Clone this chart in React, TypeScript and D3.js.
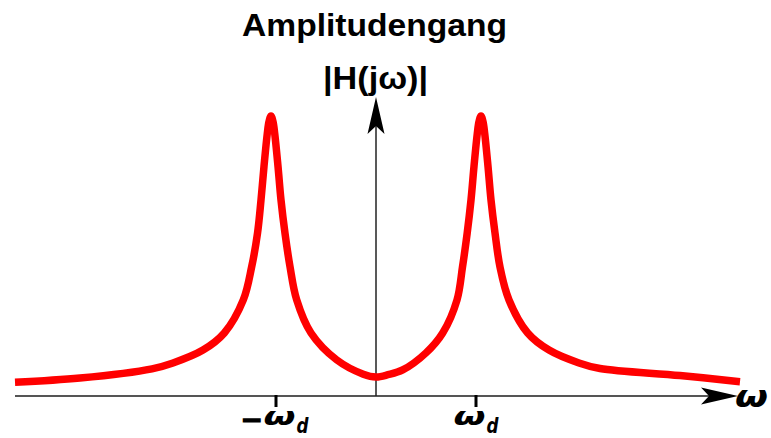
import React from "react";
import * as d3 from "d3";

const TITLE = "Amplitudengang";
const Y_LABEL = "|H(jω)|";
const X_LABEL = "ω";

// frequency (in units of ω_d) and magnitude (relative to peak)
const omega = [
  -3.61, -2.96, -2.24, -2.03, -1.73, -1.517, -1.327, -1.243, -1.185, -1.15, -1.12, -1.087, -1.07, -1.05,
  -1.03, -1.013, -0.98, -0.95, -0.91, -0.86, -0.793, -0.65, -0.393, -0.127, 0,
  0.12, 0.267, 0.5, 0.667, 0.81, 0.865, 0.912, 0.95, 0.98, 1.013, 1.03, 1.05,
  1.07, 1.087, 1.12, 1.15, 1.19, 1.24, 1.33, 1.517, 1.73, 2.03, 2.24, 3.04, 3.64,
];
const magnitude = [
  0.049, 0.064, 0.097, 0.118, 0.164, 0.225, 0.343, 0.462, 0.581, 0.7, 0.82, 0.938, 0.98, 1.0,
  0.98, 0.938, 0.82, 0.7, 0.581, 0.462, 0.343, 0.225, 0.129, 0.078, 0.068,
  0.076, 0.093, 0.154, 0.225, 0.343, 0.461, 0.582, 0.7, 0.82, 0.938, 0.98, 1.0,
  0.98, 0.938, 0.82, 0.7, 0.582, 0.461, 0.343, 0.225, 0.164, 0.118, 0.098, 0.073, 0.051,
];

const tickValues = [-1, 1];
const tickPrefix = ["−", ""];
const tickMain = ["ω", "ω"];
const tickSub = ["d", "d"];

const X_AXIS_MIN = -3.61;
const X_AXIS_MAX = 3.62;
const Y_AXIS_MAX = 1.068;

export default function App() {
  const W = 771;
  const H = 438;
  const xs = d3.scaleLinear().domain([-1, 1]).range([276, 476]);
  const ys = d3.scaleLinear().domain([0, 1]).range([396, 116]);

  const pts: [number, number][] = omega.map((w, i) => [w, magnitude[i]]);
  const line = d3
    .line<[number, number]>()
    .x((d) => xs(d[0]))
    .y((d) => ys(d[1]))
    .curve(d3.curveCatmullRom.alpha(0.5));

  const x0 = xs(0);
  const y0 = ys(0);
  const xTip = xs(X_AXIS_MAX);
  const yTip = ys(Y_AXIS_MAX);
  const aLen = 37;
  const aHalf = 8.5;
  const aNotch = 8;

  const xArrow = `M${xTip},${y0} L${xTip - aLen},${y0 - aHalf} L${xTip - aLen + aNotch},${y0} L${xTip - aLen},${y0 + aHalf} Z`;
  const yArrow = `M${x0},${yTip} L${x0 - aHalf},${yTip + aLen} L${x0},${yTip + aLen - aNotch} L${x0 + aHalf},${yTip + aLen} Z`;

  const minusW = 17;
  const gap = 3;
  const omW = 32;
  const dW = 12;

  return (
    <svg width={W} height={H} style={{ position: "absolute", left: 0, top: 0, background: "#fff" }}>
      <text
        x={374.5}
        y={36}
        textAnchor="middle"
        fontFamily="Liberation Sans, Arial, sans-serif"
        fontWeight="bold"
        fontSize={32}
        textLength={265}
        lengthAdjust="spacingAndGlyphs"
      >
        {TITLE}
      </text>
      <text
        x={375.5}
        y={89}
        textAnchor="middle"
        fontFamily="Liberation Sans, Arial, sans-serif"
        fontWeight="bold"
        fontSize={31}
        textLength={105}
        lengthAdjust="spacingAndGlyphs"
      >
        {Y_LABEL}
      </text>

      {/* x axis */}
      <line x1={xs(X_AXIS_MIN)} x2={xTip - aLen + aNotch} y1={y0} y2={y0} stroke="#555" strokeWidth={2} />
      <path d={xArrow} fill="#000" />
      {/* y axis */}
      <line x1={x0} x2={x0} y1={y0} y2={yTip + aLen - aNotch} stroke="#222" strokeWidth={1.5} />
      <path d={yArrow} fill="#000" />

      {/* ticks */}
      {tickValues.map((v, i) => {
        const tx = xs(v);
        const hasPrefix = tickPrefix[i] !== "";
        const total = (hasPrefix ? minusW + gap : 0) + omW + 1 + dW;
        const start = tx - total / 2;
        const omStart = start + (hasPrefix ? minusW + gap : 0);
        return (
          <g key={i}>
            <line x1={tx} x2={tx} y1={395} y2={407} stroke="#000" strokeWidth={3} />
            {hasPrefix && (
              <text
                x={start - 3}
                y={428}
                fontFamily="DejaVu Sans, sans-serif"
                fontWeight="bold"
                fontSize={24}
                textLength={minusW + 5}
                lengthAdjust="spacingAndGlyphs"
                stroke="#000"
                strokeWidth={1.4}
              >
                {tickPrefix[i]}
              </text>
            )}
            <text
              x={omStart}
              y={425}
              fontFamily="DejaVu Sans, sans-serif"
              fontWeight="bold"
              fontStyle="italic"
              fontSize={24}
              textLength={omW}
              lengthAdjust="spacingAndGlyphs"
            >
              {tickMain[i]}
            </text>
            <text
              x={omStart + omW + 1}
              y={433}
              fontFamily="DejaVu Sans, sans-serif"
              fontWeight="bold"
              fontStyle="italic"
              fontSize={21}
              textLength={dW}
              lengthAdjust="spacingAndGlyphs"
            >
              {tickSub[i]}
            </text>
          </g>
        );
      })}

      <text
        x={735}
        y={407}
        fontFamily="DejaVu Sans, sans-serif"
        fontWeight="bold"
        fontStyle="italic"
        fontSize={31}
        textLength={33}
        lengthAdjust="spacingAndGlyphs"
      >
        {X_LABEL}
      </text>

      {/* curve */}
      <path d={line(pts) || ""} fill="none" stroke="#ff0000" strokeWidth={7.5} strokeLinejoin="round" strokeLinecap="butt" />
    </svg>
  );
}
